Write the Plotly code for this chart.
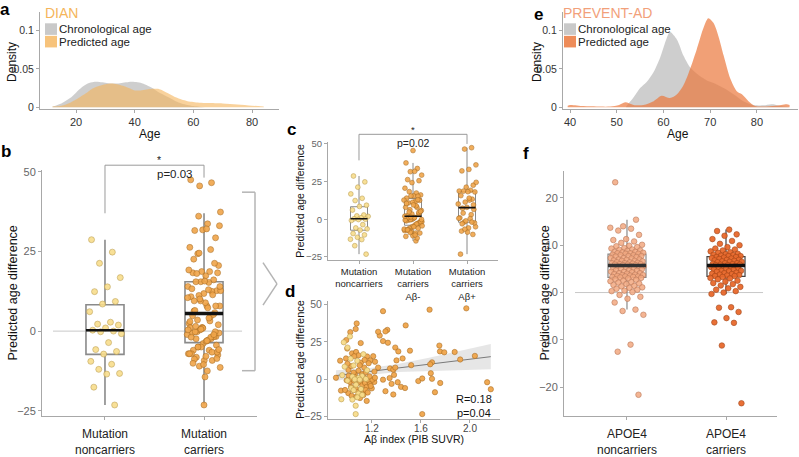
import numpy as np
import plotly.graph_objects as go

W, H = 799, 457
FONT = "Liberation Sans, Arial, sans-serif"

# ---------------- DATA ----------------
# Panel a: DIAN age densities
dian_chrono_age = [12, 15, 18, 20, 22, 24, 26, 28, 30, 32, 34, 36, 38, 40, 42, 44, 46, 48, 50, 52, 54, 56, 58, 60, 62, 64]
dian_chrono_dens = [0.001, 0.005, 0.012, 0.019, 0.026, 0.031, 0.033, 0.033, 0.032, 0.031, 0.031, 0.032, 0.033, 0.033,
                    0.032, 0.029, 0.025, 0.020, 0.016, 0.012, 0.008, 0.005, 0.003, 0.0015, 0.0007, 0.0]
dian_pred_age = [12, 15, 18, 20, 22, 24, 26, 28, 30, 32, 34, 36, 38, 40, 42, 44, 46, 48, 50, 52, 54, 56, 58, 60, 62,
                 65, 70, 75, 80, 84]
dian_pred_dens = [0.001, 0.002, 0.006, 0.010, 0.015, 0.020, 0.025, 0.028, 0.030, 0.031, 0.030, 0.028, 0.025, 0.022,
                  0.022, 0.023, 0.024, 0.024, 0.021, 0.017, 0.013, 0.010, 0.008, 0.007, 0.006, 0.0055, 0.005, 0.0035,
                  0.002, 0.001]

# Panel e: PREVENT-AD age densities
prev_chrono_age = [52, 53.5, 55, 56.4, 57.9, 59.3, 60.7, 61.4, 62.9, 64.3, 65.7, 67.1, 69.3, 71, 72.9, 75, 77.1,
                   79.3, 81.4, 83.2, 85.7, 87]
prev_chrono_dens = [0.001, 0.012, 0.025, 0.033, 0.046, 0.065, 0.09, 0.098, 0.088, 0.067, 0.052, 0.044, 0.035, 0.031,
                    0.025, 0.017, 0.008, 0.003, 0.0025, 0.004, 0.001, 0.0]
prev_pred_age = [39.5, 40, 42.9, 45.7, 48.6, 50.5, 51.8, 53.6, 55.7, 57.9, 59.6, 61.4, 62.9, 64.3, 65.7, 67.1, 68.6,
                 69.6, 70.7, 71.8, 72.9, 74.3, 75.7, 76.8, 78.2, 79.6, 81.4, 84, 86.4, 87]
prev_pred_dens = [0.002, 0.003, 0.0015, 0.001, 0.001, 0.003, 0.0065, 0.003, 0.003, 0.008, 0.015, 0.012, 0.017, 0.029,
                  0.05, 0.075, 0.104, 0.116, 0.11, 0.092, 0.067, 0.0375, 0.021, 0.017, 0.008, 0.0017, 0.001, 0.002,
                  0.004, 0.003]

# DIAN mutation noncarriers: PIB SUVR and predicted age difference
noncarrier_suvr = [1.02, 0.97, 1.00, 1.13, 1.026, 1.08, 1.05, 0.977, 1.16, 0.957, 1.12, 1.04, 1.09, 1.15, 1.06,
                   1.10, 1.00, 1.07, 1.03, 1.11, 1.05, 1.09, 1.12, 1.08, 0.95, 1.04, 1.067, 1.067]
noncarrier_diff = [28.7, 24.8, 21.3, 16.8, 13.9, 12.4, 9.3, 8.5, 6.1, 2.8, 2.2, 1.9, 1.0, 0.3, 0.0, -0.2, -0.8, -3.6,
                   -5.8, -6.4, -7.2, -9.5, -10.4, -12.0, -13.3, -13.5, -17.6, -23.2]

# DIAN mutation carriers
carrier_suvr = [1.29, 1.075, 1.067, 1.023, 1.263, 1.25, 0.99, 1.29, 1.108, 0.998, 1.037, 1.07, 1.09, 1.055, 0.988,
                1.16, 1.21, 1.186, 1.225, 1.173, 0.94, 1.11, 1.137, 1.25, 1.008, 1.09, 0.906, 1.01, 1.06, 1.29,
                0.947, 1.157, 0.993, 1.020, 1.034, 1.055, 1.075, 1.088, 1.104, 1.121, 1.137, 1.143, 1.157, 1.170,
                1.184, 1.198, 1.219, 1.029, 1.048, 1.067, 1.088, 1.110, 1.129, 1.149, 1.007, 1.034, 1.075, 1.102,
                1.165, 1.203, 1.224, 0.980, 1.05, 1.12, 1.18, 1.03, 1.15, 1.22, 1.10, 1.00, 1.14, 1.06, 1.19, 1.13,
                1.97, 1.67, 1.475, 1.325, 1.31, 1.75, 1.39, 1.415, 1.51, 1.755, 1.79, 1.875, 2.04, 1.92, 1.69,
                1.675, 1.40, 1.347, 1.374, 1.39, 1.344, 1.38, 1.41, 1.437, 1.47, 1.31, 1.374, 1.578, 1.61, 1.69,
                1.68, 1.757, 1.714, 1.61, 2.14, 2.17, 1.33, 1.45, 1.36, 1.52]
carrier_diff = [45.6, 37.4, 33.7, 31.6, 29.3, 31.8, 26.3, 25.6, 24.3, 20.6, 17.4, 18.3, 16.1, 15.5, 14.0,
                15.3, 15.5, 12.7, 11.8, 10.8, 12.5, 11.2, 7.9, 7.9, 6.3, 5.8, 1.1, 2.4, 3.2, -0.2,
                -7.5, -14.4, -0.6, -1.7, 0.4, -1.1, -2.8, -0.2, -1.7, -3.9, 1.1, -2.4, -5.0, -0.6,
                -3.2, -6.0, -1.7, -5.0, -7.1, -6.0, -8.2, -6.6, -9.2, -7.1, -9.2, -11.0, -11.4, -12.5,
                -8.8, -0.2, 1.1, -7.1, 4.5, 3.5, 2.0, 8.9, 4.8, 5.2, 9.5, 10.5, 13.0, 1.5, -4.4, -10.5,
                47.5, 46.6, 36.1, 33.1, 32.1, 22.6, 21.3, 18.7, 19.2, 18.7, 18.1, 18.3, 15.7, 13.3, 11.4,
                10.1, 12.7, 7.3, 6.5, 7.9, 0.9, 3.0, -1.9, -5.0, -5.8, -7.9, -10.1, -1.1, 0.6, 0.4,
                4.1, -2.4, -8.6, -23.2, -1.9, -6.6, 24.5, 14.0, -3.0, 9.5]
AB_THRESHOLD = 1.3  # SUVR cut separating A-beta negative / positive carriers

# Box statistics
b_groups = ["Mutation<br>noncarriers", "Mutation<br>carriers"]
b_q1, b_med, b_q3 = [-7.3, -3.6], [0.3, 5.5], [8.3, 15.5]
b_lo, b_hi = [-23.2, -23.0], [28.7, 37.0]

c_groups = ["Mutation<br>noncarriers", "Mutation<br>carriers<br>Aβ-", "Mutation<br>carriers<br>Aβ+"]
c_q1, c_med, c_q3 = [-7.3, -4.0, -2.0], [0.3, 2.0, 7.7], [8.3, 13.7, 18.4]
c_lo, c_hi = [-23.2, -14.4, -23.2], [28.7, 37.4, 47.5]

f_groups = ["APOE4<br>noncarriers", "APOE4<br>carriers"]
f_q1, f_med, f_q3 = [3.2, 3.4], [5.7, 5.7], [8.1, 7.6]
f_lo, f_hi = [-3.6, -0.3], [15.4, 13.3]

# PREVENT-AD predicted age differences
apoe_non_diff = [23.3, 15.4, 14.0, 13.7, 13.5, 13.1, 12.2, 11.3, 11.1, 10.8, 10.5, 10.1, 9.9, 9.8, 9.6, 9.4, 9.3, 9.1,
                 9.0, 8.9, 8.8, 8.6, 8.6, 8.5, 8.4, 8.3, 8.3, 8.2, 8.2, 8.0, 7.9, 7.9, 7.7, 7.7, 7.6, 7.5, 7.3, 7.3,
                 7.2, 7.0, 7.0, 6.9, 6.8, 6.7, 6.7, 6.6, 6.4, 6.4, 6.3, 6.2, 6.2, 6.1, 6.0, 6.0, 5.9, 5.9, 5.8, 5.8,
                 5.6, 5.6, 5.5, 5.4, 5.3, 5.1, 5.1, 5.0, 4.9, 4.7, 4.7, 4.6, 4.4, 4.4, 4.3, 4.1, 4.1, 4.0, 3.9, 3.8,
                 3.7, 3.7, 3.6, 3.5, 3.4, 3.4, 3.3, 3.3, 3.2, 3.1, 3.0, 2.8, 2.7, 2.5, 2.4, 2.2, 2.1, 1.9, 1.8, 1.6,
                 1.4, 1.3, 1.1, 1.0, 0.8, 0.6, 0.4, 0.3, 0.1, -0.5, -0.9, -1.3, -2.1, -3.6, -3.9, -4.7, -11.0, -12.5,
                 -21.6]
apoe_car_diff = [13.3, 13.0, 12.3, 12.0, 11.3, 10.9, 10.3, 10.0, 9.6, 9.3, 9.1, 8.9, 8.7, 8.5, 8.4, 8.2, 8.1, 8.0, 7.9,
                 7.8, 7.7, 7.7, 7.5, 7.5, 7.4, 7.3, 7.2, 7.1, 6.9, 6.9, 6.8, 6.7, 6.6, 6.5, 6.5, 6.4, 6.2, 6.2, 6.1,
                 6.0, 5.9, 5.9, 5.8, 5.8, 5.6, 5.5, 5.4, 5.3, 5.1, 5.1, 5.0, 4.9, 4.8, 4.6, 4.6, 4.5, 4.4, 4.2, 4.1,
                 4.0, 3.9, 3.8, 3.7, 3.6, 3.5, 3.5, 3.3, 3.1, 3.0, 2.8, 2.5, 2.3, 2.0, 1.8, 1.5, 1.2, 0.9, 0.6, 0.3,
                 0.0, -0.3, -3.1, -3.2, -4.1, -5.4, -6.3, -6.4, -11.2, -23.4]

stats_text = {"b": ("*", "p=0.03"), "c": ("*", "p=0.02"), "d": ("R=0.18", "p=0.04")}

# ---------------- colours ----------------
C_GRAY_FILL = "rgba(190,190,190,0.75)"
C_DIAN_FILL = "rgba(245,180,90,0.6)"
C_PREV_FILL = "rgba(235,120,60,0.7)"
C_NONCAR = "#f8dd8c"; C_NONCAR_L = "#b89a4a"
C_CAR = "#f0a54a"; C_CAR_L = "#a86b22"
C_APOE_NON = "rgba(242,168,128,0.85)"; C_APOE_NON_L = "#b8785a"
C_APOE_CAR = "#e8692c"; C_APOE_CAR_L = "#9c4216"

# ---------------- geometry ----------------
def X(px):
    return px / W

def Y(py):
    return 1 - py / H

panels = {
    'a': dict(xa='x', ya='y', xd=(40, 279), yd=(8, 109), xr=(7.73, 89.2), yr=(-0.0025, 0.1245)),
    'b': dict(xa='x2', ya='y2', xd=(42, 257), yd=(172, 427), xr=(0.364, 2.535), yr=(-26.67, 50.6)),
    'c': dict(xa='x3', ya='y3', xd=(328, 498), yd=(143, 265), xr=(0.426, 3.574), yr=(-26.9, 51.3)),
    'd': dict(xa='x4', ya='y4', xd=(328, 500), yd=(308, 430), xr=(0.841, 2.245), yr=(-26.45, 52.26)),
    'e': dict(xa='x5', ya='y5', xd=(563, 798), yd=(8, 109), xr=(38.5, 88.8), yr=(-0.0025, 0.1245)),
    'f': dict(xa='x6', ya='y6', xd=(564, 777), yd=(173, 427), xr=(0.364, 2.515), yr=(-26.1, 25.7)),
}

def to_paper(p, x, y):
    P = panels[p]
    x0, x1 = P['xd']; r0, r1 = P['xr']
    px = x0 + (x - r0) / (r1 - r0) * (x1 - x0)
    ytop, ybot = P['yd']; s0, s1 = P['yr']
    py = ybot - (y - s0) / (s1 - s0) * (ybot - ytop)
    return X(px), Y(py)

def jitter(n, w, off=0.0):
    return [((i * 0.61803398875 + off) % 1.0 - 0.5) * 2 * w for i in range(n)]

fig = go.Figure()

# ---------------- density panels ----------------
def density(p, ages, dens, color):
    P = panels[p]
    fig.add_trace(go.Scatter(x=ages, y=dens, mode='lines', fill='tozeroy', fillcolor=color,
                             line=dict(width=0, shape='spline', smoothing=0.8), xaxis=P['xa'], yaxis=P['ya'],
                             hoverinfo='skip', showlegend=False))

density('a', dian_chrono_age, dian_chrono_dens, C_GRAY_FILL)
density('a', dian_pred_age, dian_pred_dens, C_DIAN_FILL)
density('e', prev_chrono_age, prev_chrono_dens, C_GRAY_FILL)
density('e', prev_pred_age, prev_pred_dens, C_PREV_FILL)

# ---------------- box panels ----------------
def box(p, pos, q1, med, q3, lo, hi, width, lcolor, lw, medw, medcolor='#111'):
    P = panels[p]
    fig.add_trace(go.Box(x=[pos], q1=[q1], median=[med], q3=[q3], lowerfence=[lo], upperfence=[hi],
                         orientation='v', width=width, whiskerwidth=0, boxpoints=False,
                         fillcolor='rgba(255,255,255,0)', line=dict(color=lcolor, width=lw),
                         xaxis=P['xa'], yaxis=P['ya'], hoverinfo='skip', showlegend=False))
    return (pos, med, width, medw, medcolor)

def points(p, xs, ys, size, fill, lcolor, opacity=1.0):
    P = panels[p]
    fig.add_trace(go.Scatter(x=xs, y=ys, mode='markers',
                             marker=dict(size=size, color=fill, opacity=opacity,
                                         line=dict(color=lcolor, width=0.6)),
                             xaxis=P['xa'], yaxis=P['ya'], hoverinfo='skip', showlegend=False))

def median_line(p, m):
    pos, med, width, medw, medcolor = m
    P = panels[p]
    fig.add_trace(go.Scatter(x=[pos - width / 2, pos + width / 2], y=[med, med], mode='lines',
                             line=dict(color=medcolor, width=medw), xaxis=P['xa'], yaxis=P['ya'],
                             hoverinfo='skip', showlegend=False))

# zero reference lines
fig.add_shape(type='line', xref='x2', yref='y2', x0=0.475, x1=2.384, y0=0, y1=0,
              line=dict(color='#c8c8c8', width=1), layer='below')
fig.add_shape(type='line', xref='x6', yref='y6', x0=0.475, x1=2.374, y0=0, y1=0,
              line=dict(color='#c8c8c8', width=1), layer='below')

# panel b
meds = []
wb = 0.384
meds.append(box('b', 1, b_q1[0], b_med[0], b_q3[0], b_lo[0], b_hi[0], wb, '#8a8a8a', 1.6, 2.5))
meds.append(box('b', 2, b_q1[1], b_med[1], b_q3[1], b_lo[1], b_hi[1], wb, '#8a8a8a', 1.6, 3.5))
jn = jitter(len(noncarrier_diff), 0.17, 0.1)
points('b', [1 + j for j in jn], noncarrier_diff, 6, C_NONCAR, C_NONCAR_L, 0.9)
jc = jitter(len(carrier_diff), 0.17, 0.37)
points('b', [2 + j for j in jc], carrier_diff, 6, C_CAR, C_CAR_L, 0.9)
for m in meds:
    median_line('b', m)

# panel c
abneg = [d for s, d in zip(carrier_suvr, carrier_diff) if s < AB_THRESHOLD]
abpos = [d for s, d in zip(carrier_suvr, carrier_diff) if s >= AB_THRESHOLD]
meds = []
wc = 0.315
for i in range(3):
    meds.append(box('c', i + 1, c_q1[i], c_med[i], c_q3[i], c_lo[i], c_hi[i], wc, '#8a8a8a', 1, 1.6))
jn = jitter(len(noncarrier_diff), 0.17, 0.2)
points('c', [1 + j for j in jn], noncarrier_diff, 4.8, C_NONCAR, C_NONCAR_L, 0.9)
jn = jitter(len(abneg), 0.17, 0.5)
points('c', [2 + j for j in jn], abneg, 4.8, C_CAR, C_CAR_L, 0.9)
jn = jitter(len(abpos), 0.17, 0.75)
points('c', [3 + j for j in jn], abpos, 4.8, C_CAR, C_CAR_L, 0.9)
for m in meds:
    median_line('c', m)

# panel d: scatter + linear fit with 95% CI
all_x = np.array(carrier_suvr + noncarrier_suvr)
all_y = np.array(carrier_diff + noncarrier_diff)
slope, icpt = np.polyfit(all_x, all_y, 1)
n = len(all_x)
resid = all_y - (slope * all_x + icpt)
s_err = np.sqrt(np.sum(resid ** 2) / (n - 2))
xbar = all_x.mean(); sxx = np.sum((all_x - xbar) ** 2)
xg = np.linspace(all_x.min(), all_x.max(), 60)
yg = slope * xg + icpt
se = s_err * np.sqrt(1 / n + (xg - xbar) ** 2 / sxx)
fig.add_trace(go.Scatter(x=np.concatenate([xg, xg[::-1]]), y=np.concatenate([yg + 1.977 * se, (yg - 1.977 * se)[::-1]]),
                         fill='toself', fillcolor='rgba(200,200,200,0.45)', line=dict(width=0),
                         mode='lines', xaxis='x4', yaxis='y4', hoverinfo='skip', showlegend=False))
fig.add_trace(go.Scatter(x=xg, y=yg, mode='lines', line=dict(color='#7a7a7a', width=1),
                         xaxis='x4', yaxis='y4', hoverinfo='skip', showlegend=False))
points('d', carrier_suvr, carrier_diff, 5.3, C_CAR, C_CAR_L, 0.95)
points('d', noncarrier_suvr, noncarrier_diff, 5.3, C_NONCAR, C_NONCAR_L, 0.95)

# panel f
meds = []
meds.append(box('f', 1, f_q1[0], f_med[0], f_q3[0], f_lo[0], f_hi[0], wb, '#8a8a8a', 1.2, 3.5, '#333'))
meds.append(box('f', 2, f_q1[1], f_med[1], f_q3[1], f_lo[1], f_hi[1], wb, '#444', 1.2, 3.5, '#111'))
jn = jitter(len(apoe_non_diff), 0.17, 0.15)
points('f', [1 + j for j in jn], apoe_non_diff, 5.6, C_APOE_NON, C_APOE_NON_L, 1.0)
jn = jitter(len(apoe_car_diff), 0.16, 0.6)
points('f', [2 + j for j in jn], apoe_car_diff, 5.6, C_APOE_CAR, C_APOE_CAR_L, 0.95)
for m in meds:
    median_line('f', m)

# ---------------- axes ----------------
axis_common = dict(showgrid=False, zeroline=False, showline=True, linecolor='#a8a8a8', linewidth=1,
                   ticks='outside', ticklen=3, tickcolor='#a8a8a8', fixedrange=True)
layout = dict(width=W, height=H, margin=dict(l=0, r=0, t=0, b=0, pad=0), autosize=False,
              paper_bgcolor='white', plot_bgcolor='white', showlegend=False,
              font=dict(family=FONT, color='#222'))

tick_setup = {
    'a': (dict(tickvals=[20, 40, 60, 80], tickfont=dict(size=11, color='#333')),
          dict(tickvals=[0, 0.05, 0.1], ticktext=['0', '0.05', '0.1'], tickfont=dict(size=10.5, color='#333'))),
    'e': (dict(tickvals=[40, 50, 60, 70, 80], tickfont=dict(size=11, color='#333')),
          dict(tickvals=[0, 0.05, 0.1], ticktext=['0', '0.05', '0.1'], tickfont=dict(size=10.5, color='#333'))),
    'b': (dict(tickvals=[1, 2], ticktext=b_groups, tickfont=dict(size=12, color='#222'), ticklabelstandoff=4),
          dict(tickvals=[-25, 0, 25, 50], tickfont=dict(size=11, color='#666'))),
    'c': (dict(tickvals=[1, 2, 3], ticktext=c_groups, tickfont=dict(size=9.5, color='#222')),
          dict(tickvals=[-25, 0, 25, 50], tickfont=dict(size=9.5, color='#666'))),
    'd': (dict(tickvals=[1.2, 1.6, 2.0], ticktext=['1.2', '1.6', '2.0'], tickfont=dict(size=10, color='#444'),
               ticklabelstandoff=-3),
          dict(tickvals=[-25, 0, 25, 50], tickfont=dict(size=10.5, color='#666'))),
    'f': (dict(tickvals=[1, 2], ticktext=f_groups, tickfont=dict(size=12, color='#222'), ticklabelstandoff=4),
          dict(tickvals=[-20, -10, 0, 10, 20], tickfont=dict(size=11, color='#666'))),
}

for p, P in panels.items():
    xn = 'xaxis' + P['xa'][1:]
    yn = 'yaxis' + P['ya'][1:]
    xt, yt = tick_setup[p]
    layout[xn] = dict(axis_common, domain=[X(P['xd'][0]), X(P['xd'][1])], range=list(P['xr']),
                      anchor=P['ya'], **xt)
    layout[yn] = dict(axis_common, domain=[Y(P['yd'][1]), Y(P['yd'][0])], range=list(P['yr']),
                      anchor=P['xa'], **yt)
fig.update_layout(**layout)

# ---------------- annotations ----------------
ann = []
def text(px, py, s, size, color='#111', xanchor='center', yanchor='middle', angle=0, bold=False):
    if bold:
        s = '<b>' + s + '</b>'
    ann.append(dict(x=X(px), y=Y(py), xref='paper', yref='paper', text=s, showarrow=False,
                    font=dict(family=FONT, size=size, color=color), xanchor=xanchor, yanchor=yanchor,
                    textangle=angle, borderpad=0))

# panel letters
for lab, px, py in [('a', 5, 6), ('b', 6, 153), ('c', 291, 130), ('d', 290, 298), ('e', 538, 11), ('f', 526, 155)]:
    text(px, py, lab, 17, '#000', bold=True)

# titles and legends for density panels
text(44, 9, 'DIAN', 14, '#f5b55b', xanchor='left')
text(562, 9, 'PREVENT-AD', 14, '#f2a07a', xanchor='left')
shapes = []
for x0, predcol in [(45, C_DIAN_FILL), (564, C_PREV_FILL)]:
    shapes.append(dict(type='rect', xref='paper', yref='paper', x0=X(x0), x1=X(x0 + 12), y0=Y(32), y1=Y(20),
                       fillcolor='#c9c9c9', line=dict(width=0)))
    shapes.append(dict(type='rect', xref='paper', yref='paper', x0=X(x0), x1=X(x0 + 12), y0=Y(45), y1=Y(33),
                       fillcolor=predcol.replace('0.6)', '0.8)').replace('0.7)', '0.85)'), line=dict(width=0)))
    text(x0 + 13, 26, 'Chronological age', 11.5, '#222', xanchor='left')
    text(x0 + 13, 39, 'Predicted age', 11.5, '#222', xanchor='left')

# axis titles
text(12, 60, 'Density', 12, '#111', angle=-90)
text(150, 135, 'Age', 12, '#111')
text(537, 60, 'Density', 12, '#111', angle=-90)
text(678, 135, 'Age', 12, '#111')
text(13, 300, 'Predicted age difference', 12.5, '#111', angle=-90)
text(300, 204, 'Predicted age difference', 10.5, '#111', angle=-90)
text(300, 369, 'Predicted age difference', 11, '#111', angle=-90)
text(545, 300, 'Predicted age difference', 12.5, '#111', angle=-90)
text(414, 451, 'Aβ index (PIB SUVR)', 10.5, '#111', yanchor='middle')

# significance brackets
def bracket(p, xl, xr, ytop, yl, yr, star, ptxt, size):
    xl0, yt = to_paper(p, xl, ytop)
    xr0, _ = to_paper(p, xr, ytop)
    _, yle = to_paper(p, xl, yl)
    _, yre = to_paper(p, xr, yr)
    lc = dict(color='#9a9a9a', width=1)
    shapes.append(dict(type='line', xref='paper', yref='paper', x0=xl0, x1=xr0, y0=yt, y1=yt, line=lc))
    shapes.append(dict(type='line', xref='paper', yref='paper', x0=xl0, x1=xl0, y0=yt, y1=yle, line=lc))
    shapes.append(dict(type='line', xref='paper', yref='paper', x0=xr0, x1=xr0, y0=yt, y1=yre, line=lc))
    xm = (xl0 + xr0) / 2
    ann.append(dict(x=xm, y=yt, xref='paper', yref='paper', text=star, showarrow=False, yanchor='bottom',
                    font=dict(family=FONT, size=size - 1, color='#222'), yshift=-3))
    ann.append(dict(x=xm, y=yt, xref='paper', yref='paper', text=ptxt, showarrow=False, yanchor='top',
                    font=dict(family=FONT, size=size, color='#222'), yshift=-1))

bracket('b', 1, 2, 52.1, 37.0, 48.2, stats_text['b'][0], stats_text['b'][1], 11.5)
bracket('c', 1, 3, 56.4, 39.1, 50.0, stats_text['c'][0], stats_text['c'][1], 10.5)

# R / p text in d
text(493, 417, stats_text['d'][0] + '<br>' + stats_text['d'][1], 11, '#111', xanchor='right')

# gray bracket + chevron linking b to c/d
g = dict(color='#b4b4b4', width=1.5)
for (x0, y0, x1, y1) in [(242, 195, 255, 195), (255, 195, 255, 380), (242, 380, 255, 380),
                         (263, 268, 277, 290), (277, 290, 263, 312)]:
    shapes.append(dict(type='line', xref='paper', yref='paper', x0=X(x0), y0=Y(y0), x1=X(x1), y1=Y(y1), line=g))

fig.update_layout(annotations=ann, shapes=list(fig.layout.shapes) + shapes)
fig.write_html("out.html", config={'displayModeBar': False, 'staticPlot': True},
               post_script="var s=document.createElement('style');"
                           "s.innerHTML='html,body{margin:0;padding:0;overflow:hidden}';"
                           "document.head.appendChild(s);")
